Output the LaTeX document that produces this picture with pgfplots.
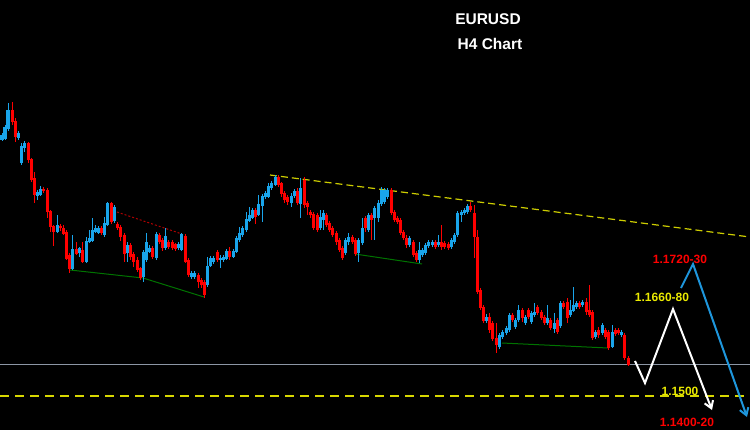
\documentclass[border=0pt]{standalone}
\usepackage{pgfplots}
\pgfplotsset{compat=1.18}
\usepackage{pgfplotstable}
\usepackage{fontspec}
\setmainfont{Liberation Sans}
\usetikzlibrary{arrows.meta}
\definecolor{cblue}{RGB}{25,165,235}
\definecolor{cred}{RGB}{255,0,0}
\definecolor{tyel}{RGB}{205,205,0}
\definecolor{hyel}{RGB}{215,215,0}
\definecolor{cgreen}{RGB}{0,115,0}
\definecolor{cgray}{RGB}{140,150,165}
\definecolor{dred}{RGB}{175,0,0}
\definecolor{ablue}{RGB}{30,150,220}
\definecolor{lyel}{RGB}{235,235,0}

% candles in pixel units: x, body top t, body bottom b, high h, low l
\pgfplotstableread{
x t b h l
2 135 140 133 141
5 127 139 125 140
8 110 129 103 131
18 133 138 131 140
21 146 163 143 165
24 143 148 141 152
37 192 196 190 200
40 189 195 186 196
57 225 232 215 233
72 249 269 235 270
79 248 253 247 257
86 241 262 237 263
89 238 242 230 243
92 230 241 218 242
95 228 232 225 233
98 228 233 226 234
104 223 235 217 237
107 203 225 202 226
114 207 221 205 223
127 245 253 242 262
143 252 277 250 282
146 242 260 233 262
149 248 252 245 253
156 234 258 232 260
165 236 248 228 250
178 244 248 242 250
181 234 250 233 251
191 273 277 271 279
194 273 277 271 279
207 266 285 257 287
210 258 266 256 267
213 258 262 256 264
220 258 260 255 268
223 257 260 255 262
226 251 259 249 260
233 251 257 249 258
236 238 252 236 253
239 233 240 227 242
242 228 235 226 237
246 219 230 212 232
249 215 221 207 222
252 210 218 208 219
258 204 215 195 216
262 196 206 194 222
265 193 197 191 199
268 186 197 183 198
271 183 188 181 190
275 177 185 175 186
291 196 203 193 207
294 191 196 189 198
300 188 204 178 218
320 217 228 210 230
323 213 220 210 230
345 240 253 238 255
348 237 242 233 245
358 240 253 238 262
362 228 243 218 245
368 215 230 213 232
374 208 218 206 240
378 203 218 200 222
381 190 204 187 206
384 190 202 188 204
387 190 197 188 199
409 238 245 236 247
419 250 260 242 263
422 250 255 248 257
425 245 253 243 255
428 242 246 240 248
432 242 245 240 247
438 242 245 235 247
451 240 247 238 249
454 235 242 233 244
457 213 235 211 237
461 212 215 210 222
464 210 213 208 215
467 206 212 204 214
486 317 321 314 323
499 335 347 333 349
502 332 337 330 339
506 328 333 326 335
509 315 330 313 332
515 320 327 318 329
518 310 320 305 322
525 317 323 315 325
531 313 322 311 324
534 312 315 303 317
547 318 323 305 325
554 323 329 313 333
560 303 326 301 328
570 310 315 300 317
573 305 311 287 312
576 303 307 301 309
582 302 305 300 307
595 332 337 330 339
602 325 333 323 335
612 332 347 325 348
621 332 335 330 337
}\up

\pgfplotstableread{
x t b h l
12 110 122 102 125
15 121 137 118 142
28 143 160 142 163
31 159 180 158 182
34 178 195 172 203
43 189 191 187 193
47 190 212 188 218
50 211 227 210 232
53 226 232 225 246
60 226 228 224 231
63 228 234 225 235
66 232 259 230 260
69 255 269 253 273
76 249 254 242 255
82 250 262 242 263
101 228 233 226 235
111 203 222 202 224
117 224 228 222 230
120 227 237 225 241
124 235 254 233 262
130 245 257 243 260
133 254 262 252 267
137 260 270 257 272
140 268 278 267 280
152 248 257 246 259
159 235 242 233 244
162 240 248 238 251
168 242 247 240 249
172 242 248 240 250
175 244 249 243 251
185 236 262 234 263
188 260 275 258 277
198 275 282 273 288
201 280 285 278 288
204 282 295 280 298
217 252 260 250 262
229 251 257 247 260
255 210 217 208 224
278 177 185 175 187
281 183 194 182 197
284 193 200 191 203
287 197 202 195 205
297 191 203 188 205
304 180 205 177 208
307 203 207 201 215
310 212 215 210 218
313 214 228 212 230
317 215 230 213 232
326 215 225 213 227
329 223 230 221 232
332 228 235 226 237
336 233 242 231 245
339 240 250 238 252
342 248 258 246 260
352 237 242 235 244
355 240 254 238 256
365 218 228 216 232
371 215 220 213 240
391 190 213 188 215
394 212 220 210 222
397 218 222 216 224
400 220 233 218 235
403 232 238 230 240
406 238 245 235 248
413 242 255 240 257
416 253 260 251 262
435 242 247 240 249
441 242 247 225 250
444 243 247 241 249
448 244 248 242 250
470 206 210 202 212
474 213 237 205 258
477 237 292 230 294
480 290 308 288 310
483 307 321 305 323
489 317 330 313 333
492 323 339 321 341
496 338 345 323 353
512 315 320 313 322
522 310 318 308 322
528 310 317 308 319
537 307 313 305 315
541 312 318 310 320
544 317 323 315 325
550 320 328 318 330
557 320 332 318 334
563 303 307 301 309
567 302 318 298 323
579 303 307 301 309
586 302 312 298 315
589 310 315 285 317
592 312 338 310 340
598 330 335 327 338
605 330 337 328 339
608 332 348 330 350
615 330 334 328 336
618 330 333 328 335
624 335 358 333 360
628 358 365 356 366
}\down

\begin{document}
\begin{tikzpicture}
\fill[black] (0,0) rectangle (750bp,430bp);
\begin{axis}[at={(0,0)}, anchor=south west, scale only axis,
  width=750bp, height=430bp, xmin=0, xmax=750, ymin=0, ymax=430,
  y dir=reverse, hide axis, clip=false]

% reference lines
\addplot[cgray, line width=0.9bp] coordinates {(0,364) (750,364)};
\addplot[hyel, line width=1.2bp, dash pattern=on 9bp off 6bp] coordinates {(0,396) (750,396)};
\addplot[tyel, line width=1.2bp, dash pattern=on 7bp off 4bp] coordinates {(270,175) (750,237)};
\addplot[dred, line width=1bp, dash pattern=on 2bp off 2bp] coordinates {(117,212) (182,234)};
\addplot[cgreen, line width=1bp] coordinates {(70,270) (143,278) (204,297)};
\addplot[cgreen, line width=1bp] coordinates {(355,254) (422,264)};
\addplot[cgreen, line width=1bp] coordinates {(502,343) (608,348)};

% candles: wicks
\addplot[draw=none, mark=none, forget plot,
  error bars/.cd, y dir=both, y explicit, error mark=none,
  error bar style={draw=cblue, line width=1bp}]
  table[x=x, y expr={(\thisrow{h}+\thisrow{l})/2}, y error expr={(\thisrow{l}-\thisrow{h})/2}] {\up};
\addplot[draw=none, mark=none, forget plot,
  error bars/.cd, y dir=both, y explicit, error mark=none,
  error bar style={draw=cred, line width=1bp}]
  table[x=x, y expr={(\thisrow{h}+\thisrow{l})/2}, y error expr={(\thisrow{l}-\thisrow{h})/2}] {\down};
% candles: bodies
\addplot[draw=none, mark=none, forget plot,
  error bars/.cd, y dir=both, y explicit, error mark=none,
  error bar style={draw=cblue, line width=3bp}]
  table[x=x, y expr={(\thisrow{t}+\thisrow{b})/2}, y error expr={max((\thisrow{b}-\thisrow{t})/2,0.7)}] {\up};
\addplot[draw=none, mark=none, forget plot,
  error bars/.cd, y dir=both, y explicit, error mark=none,
  error bar style={draw=cred, line width=3bp}]
  table[x=x, y expr={(\thisrow{t}+\thisrow{b})/2}, y error expr={max((\thisrow{b}-\thisrow{t})/2,0.7)}] {\down};

% projection arrows
\addplot[white, line width=2bp, -{Straight Barb[length=7bp,width=9bp]}] coordinates {(635,361) (645,383) (673,309) (712,410)};
\addplot[ablue, line width=2bp, -{Straight Barb[length=7bp,width=9bp]}] coordinates {(681,288) (693,264) (747,417)};

% labels
\node[text=white, font=\fontsize{15.5bp}{18bp}\selectfont\bfseries] at (axis cs:488,19) {EURUSD};
\node[text=white, font=\fontsize{15.5bp}{18bp}\selectfont\bfseries] at (axis cs:490,44) {H4 Chart};
\node[text=cred, font=\fontsize{12bp}{14bp}\selectfont\bfseries] at (axis cs:680,259) {1.1720-30};
\node[text=lyel, font=\fontsize{12bp}{14bp}\selectfont\bfseries] at (axis cs:662,297) {1.1660-80};
\node[text=lyel, font=\fontsize{12bp}{14bp}\selectfont\bfseries] at (axis cs:680,391) {1.1500};
\node[text=cred, font=\fontsize{12bp}{14bp}\selectfont\bfseries] at (axis cs:687,422) {1.1400-20};
\end{axis}
\pgfresetboundingbox
\path (0,0) rectangle (750bp,430bp);
\end{tikzpicture}
\end{document}
